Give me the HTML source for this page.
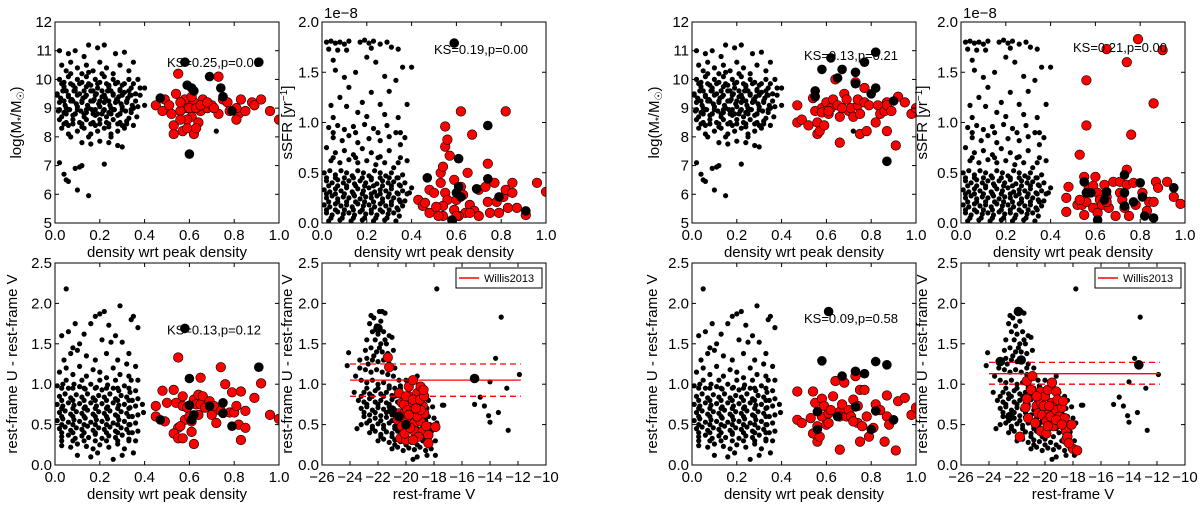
<!DOCTYPE html>
<html><head><meta charset="utf-8"><style>
body{margin:0;background:#fff;width:1200px;height:502px;overflow:hidden}
svg{font-family:"Liberation Sans","DejaVu Sans",sans-serif}
</style></head><body>
<svg id="fig" width="1200" height="502" viewBox="0 0 1200 502" xmlns="http://www.w3.org/2000/svg"></svg>
<script>
// ---------- field (black dot) samples, shared between the two groups ----------
const massFieldX=[.02,.06,.09,.13,.15,.19,.22,.27,.31,.35,.03,.05,.07,.1,.12,.14,.17,.2,.23,.26,.29,.33,.37,.02,.04,.06,.08,.1,.12,.14,.16,.18,.2,.22,.24,.26,.28,.3,.34,.38,.4,.01,.035,.06,.085,.11,.135,.16,.185,.21,.235,.26,.285,.31,.335,.36,.02,.045,.07,.095,.12,.145,.17,.195,.22,.245,.27,.295,.32,.345,.37,.4,.015,.04,.065,.09,.115,.14,.165,.19,.215,.24,.265,.29,.315,.34,.365,.02,.05,.08,.11,.14,.17,.2,.23,.26,.29,.32,.35,.03,.06,.1,.13,.16,.19,.22,.25,.28,.31,.12,.16,.2,.24,.28,.3,.025,.075,.125,.175,.225,.275,.325,.05,.1,.15,.2,.25,.3,.35,.03,.08,.13,.18,.23,.28,.33,.04,.09,.14,.19,.24,.29,.06,.12,.18,.24,.3,.07,.15,.21,.33,.02,.04,.05,.06,.09,.1,.11,.12,.15,.22,.72,
.03,.07,.11,.15,.19,.23,.27,.31,.35,.05,.09,.13,.17,.21,.25,.29,.33,.01,.06,.1,.14,.18,.22,.26,.3,.34,.38,.04,.08,.12,.16,.2,.24,.28,.32,.36,.02,.06,.1,.14,.18,.22,.26,.3,.34,.05,.09,.13,.17,.21,.25,.29,.04,.08,.12,.16,.2,.24,.28,.32,.07,.15,.25];
const massFieldY=[11.0,10.9,11.0,10.8,11.2,11.1,11.2,10.9,10.95,10.6,10.5,10.3,10.6,10.4,10.2,10.5,10.3,10.6,10.4,10.2,10.5,10.3,10.0,10.0,9.9,10.1,9.8,10.0,9.9,10.1,9.8,10.0,9.9,10.1,9.8,10.0,9.9,9.8,9.7,9.7,9.7,9.5,9.6,9.4,9.6,9.5,9.4,9.6,9.5,9.4,9.6,9.5,9.4,9.55,9.45,9.5,9.2,9.1,9.25,9.15,9.2,9.1,9.25,9.15,9.2,9.1,9.2,9.15,9.2,9.1,9.05,9.1,8.9,8.85,8.95,8.8,8.9,8.85,8.95,8.8,8.9,8.85,8.95,8.8,8.9,8.85,8.7,8.6,8.5,8.6,8.5,8.6,8.5,8.6,8.5,8.6,8.5,8.55,8.4,8.3,8.1,8.2,8.3,8.1,8.2,8.3,8.1,8.2,8.3,7.8,7.75,7.85,7.8,7.7,7.65,9.35,9.3,9.35,9.3,9.35,9.3,9.35,9.0,9.05,9.0,9.05,9.0,9.05,9.0,8.7,8.75,8.7,8.75,8.7,8.75,8.65,9.75,9.7,9.75,9.7,9.75,9.65,8.4,8.35,8.4,8.35,8.4,10.2,10.25,10.2,10.0,7.1,6.7,6.5,6.45,6.9,6.15,6.95,7.0,5.95,7.05,8.2,
9.85,9.85,9.85,9.85,9.85,9.85,9.85,9.85,9.85,9.6,9.6,9.6,9.6,9.6,9.6,9.6,9.6,9.45,9.45,9.45,9.45,9.45,9.45,9.45,9.45,9.45,9.45,9.25,9.25,9.25,9.25,9.25,9.25,9.25,9.25,9.25,8.95,8.95,8.95,8.95,8.95,8.95,8.95,8.95,8.95,8.8,8.8,8.8,8.8,8.8,8.8,8.8,8.45,8.45,8.45,8.45,8.45,8.45,8.45,8.45,8.0,8.0,8.0];
const ssfrFieldX=[.02,.04,.06,.08,.1,.12,.17,.19,.21,.23,.26,.29,.03,.07,.11,.22,.31,.34,.05,.2,.24,.36,.4,.06,.1,.15,.28,.33,.12,.22,.3,.08,.18,.04,.11,.26,.38,.16,.2,.28,.34,.05,.03,.07,.1,.14,.19,.23,.29,.33,.37,.05,.09,.12,.16,.21,.26,.3,.35,.02,.06,.1,.14,.18,.22,.26,.3,.34,.38,.04,.08,.12,.16,.2,.24,.28,.32,.01,.035,.06,.085,.11,.135,.16,.185,.21,.235,.26,.285,.31,.335,.36,.02,.045,.07,.095,.12,.145,.17,.195,.22,.245,.27,.295,.32,.345,.37,.4,.01,.035,.06,.085,.11,.135,.16,.185,.21,.235,.26,.285,.31,.335,.36,.39,.02,.045,.07,.095,.12,.145,.17,.195,.22,.245,.27,.295,.32,.345,.37,.01,.035,.06,.085,.11,.135,.16,.185,.21,.235,.26,.285,.31,.335,.36,.02,.045,.07,.095,.12,.145,.17,.195,.22,.245,.27,.295,.32,.345,.03,.08,.13,.18,.23,.28,.33,
.02,.06,.1,.14,.18,.22,.26,.3,.34,.03,.07,.11,.15,.19,.23,.27,.31,.35,.02,.06,.1,.14,.18,.22,.26,.3,.34,.38,.03,.07,.11,.15,.19,.23,.27,.31,.35,.02,.06,.1,.14,.18,.22,.26,.3,.34,.04,.09,.14,.19,.24,.29,.05,.15,.25,.35,.05,.15,.25,.35];
const ssfrFieldY=[1.8,1.81,1.79,1.8,1.78,1.81,1.8,1.82,1.79,1.81,1.78,1.8,1.73,1.72,1.72,1.74,1.75,1.73,1.62,1.65,1.6,1.55,1.55,1.52,1.45,1.5,1.46,1.42,1.35,1.3,1.31,1.25,1.2,1.17,1.16,1.18,1.18,1.1,1.06,1.08,1.05,1.05,.95,.97,.93,.96,.98,.94,.97,.9,.85,.85,.82,.87,.8,.84,.82,.86,.78,.75,.7,.72,.68,.74,.7,.66,.72,.6,.62,.62,.6,.63,.6,.62,.58,.6,.55,.5,.52,.48,.52,.5,.47,.52,.5,.47,.52,.5,.47,.5,.45,.48,.42,.4,.43,.4,.42,.39,.42,.4,.43,.39,.42,.4,.41,.38,.4,.35,.33,.31,.34,.32,.35,.31,.34,.32,.35,.31,.33,.32,.34,.3,.32,.3,.25,.27,.24,.26,.25,.27,.24,.26,.25,.27,.24,.26,.25,.23,.22,.18,.16,.19,.17,.18,.16,.19,.17,.18,.16,.19,.17,.18,.15,.17,.1,.08,.11,.09,.1,.08,.11,.09,.1,.08,.11,.09,.1,.07,.02,.03,.02,.03,.02,.03,.02,
.45,.45,.45,.45,.45,.45,.45,.45,.45,.37,.37,.37,.37,.37,.37,.37,.37,.37,.29,.29,.29,.29,.29,.29,.29,.29,.29,.29,.21,.21,.21,.21,.21,.21,.21,.21,.21,.13,.13,.13,.13,.13,.13,.13,.13,.13,.05,.05,.05,.05,.05,.05,.9,.9,.9,.9,.65,.65,.65,.65];
const uvFieldX=[.05,.2,.22,.29,.35,.34,.18,.09,.16,.24,.37,.03,.06,.13,.27,.3,.25,.21,.08,.11,.33,.36,.04,.07,.1,.14,.18,.23,.28,.32,.02,.05,.08,.11,.14,.17,.2,.23,.26,.29,.33,.37,.01,.035,.06,.085,.11,.135,.16,.185,.21,.235,.26,.285,.31,.335,.36,.02,.045,.07,.095,.12,.145,.17,.195,.22,.245,.27,.295,.32,.345,.37,.39,.01,.035,.06,.085,.11,.135,.16,.185,.21,.235,.26,.285,.31,.335,.36,.02,.045,.07,.095,.12,.145,.17,.195,.22,.245,.27,.295,.32,.345,.37,.395,.01,.035,.06,.085,.11,.135,.16,.185,.21,.235,.26,.285,.31,.335,.36,.02,.045,.07,.095,.12,.145,.17,.195,.22,.245,.27,.295,.32,.345,.37,.03,.06,.09,.12,.15,.18,.21,.24,.27,.3,.33,.36,.03,.07,.1,.14,.17,.2,.24,.28,.31,.35,.1,.16,.19,.26,.3,
.03,.08,.13,.18,.23,.28,.33,.03,.08,.13,.18,.23,.28,.33,.03,.08,.13,.18,.23,.28,.33,.03,.08,.13,.18,.23,.28,.33,.03,.08,.13,.18,.23,.28,.33,.03,.08,.13,.18,.23,.28,.33,.03,.08,.13,.18,.23,.28,.33,.05,.12,.2,.27,.34];
const uvFieldY=[2.18,1.87,1.9,1.97,1.84,1.8,1.84,1.75,1.75,1.73,1.7,1.6,1.65,1.62,1.6,1.52,1.52,1.55,1.45,1.5,1.38,1.22,1.3,1.38,1.42,1.35,1.3,1.38,1.3,1.25,1.15,1.2,1.12,1.22,1.1,1.18,1.15,1.08,1.2,1.12,1.1,1.05,.98,1.0,.95,1.0,.97,.94,1.0,.96,.93,.99,.95,.92,.98,.9,.92,.85,.88,.83,.87,.84,.88,.83,.86,.84,.88,.82,.86,.84,.8,.82,.75,.75,.73,.77,.74,.76,.72,.77,.73,.76,.72,.77,.74,.75,.71,.73,.65,.67,.63,.66,.64,.68,.63,.66,.64,.67,.62,.66,.64,.6,.62,.65,.55,.57,.53,.56,.54,.58,.53,.56,.54,.57,.52,.56,.54,.5,.52,.45,.47,.43,.46,.44,.48,.43,.46,.44,.47,.42,.46,.44,.4,.42,.35,.37,.33,.36,.34,.38,.33,.36,.34,.37,.32,.3,.24,.22,.26,.23,.2,.25,.22,.26,.2,.15,.12,.1,.15,.07,.12,
.95,.95,.95,.95,.95,.95,.95,.8,.8,.8,.8,.8,.8,.8,.7,.7,.7,.7,.7,.7,.7,.6,.6,.6,.6,.6,.6,.6,.5,.5,.5,.5,.5,.5,.5,.4,.4,.4,.4,.4,.4,.4,.3,.3,.3,.3,.3,.3,.3,1.05,1.05,1.05,1.05,1.05];
const cmdFieldX=[-22.5,-22.3,-21.9,-21.7,-21.5,-22.6,-22.1,-21.8,-22.4,-22.0,-21.6,-21.2,-22.8,-22.2,-21.8,-21.4,-21.0,-22.9,-22.5,-22.1,-21.7,-21.3,-20.9,-23.3,-22.8,-22.4,-22.0,-21.6,-21.2,-20.8,-24.1,-24.2,-23.3,-22.9,-22.5,-22.1,-21.7,-21.3,-20.9,-20.5,-23.7,-23.6,-23.2,-22.8,-22.4,-22.0,-21.6,-21.2,-20.8,-20.4,-20.0,-19.2,-23.0,-22.6,-22.2,-21.8,-21.4,-21.0,-20.6,-20.2,-19.0,-18.6,-23.4,-23.0,-22.6,-22.2,-21.8,-21.4,-21.0,-20.6,-20.2,-18.8,-18.4,-23.2,-22.8,-22.4,-22.0,-21.6,-21.2,-20.8,-18.5,-18.1,-17.3,-23.0,-22.6,-22.2,-21.8,-21.4,-21.0,-20.6,-18.4,-18.0,-23.2,-22.8,-22.4,-22.0,-21.6,-21.2,-20.8,-20.4,-18.3,-17.8,-23.5,-22.6,-22.2,-21.8,-21.4,-21.0,-20.6,-20.2,-19.0,-18.2,-22.0,-21.6,-21.2,-20.8,-20.4,-20.0,-19.6,-18.8,-18.4,-17.9,-21.0,-20.6,-20.2,-19.8,-19.4,-19.0,-18.6,-18.2,-17.9,-18.5,-19.2,-19.5,-17.8,-13.2,-13.6,-11.9,-12.8,-14.0,-14.7,-14.4,-14.1,-14.0,-13.4,-12.7,-15.1,-17.4,
-22.8,-22.0,-21.2,-20.4,-23.2,-22.4,-21.6,-20.8,-20.0,-22.8,-22.0,-21.2,-20.4,-19.6,-23.0,-22.2,-21.4,-20.6,-19.8,-18.8,-22.6,-21.8,-21.0,-20.2,-19.4,-18.6,-22.4,-21.6,-20.8,-20.0,-19.2,-18.4,-21.8,-21.0,-20.2,-19.4,-18.6,-20.8,-20.0,-19.2,-18.4,-22.3,-21.9,-21.5,-22.7,-21.3];
const cmdFieldY=[1.85,1.82,1.9,1.9,1.88,1.75,1.72,1.78,1.65,1.62,1.65,1.6,1.55,1.55,1.5,1.5,1.58,1.42,1.45,1.4,1.4,1.38,1.42,1.3,1.32,1.3,1.28,1.3,1.25,1.2,1.39,1.23,1.2,1.18,1.15,1.18,1.15,1.12,1.1,1.05,.9,1.1,1.05,1.02,1.05,1.0,1.02,.98,.95,.98,1.05,1.1,.9,.88,.92,.88,.9,.86,.9,.85,.9,.85,.8,.78,.82,.78,.8,.77,.81,.78,.8,.78,.8,.7,.72,.68,.71,.69,.72,.68,.7,.72,.74,.6,.62,.58,.61,.59,.62,.58,.6,.58,.5,.52,.48,.51,.49,.52,.48,.51,.5,.52,.45,.4,.42,.38,.41,.39,.42,.38,.4,.41,.3,.32,.28,.31,.29,.32,.28,.3,.28,.3,.2,.22,.18,.21,.19,.22,.18,.2,.12,.12,.1,.07,2.18,1.83,1.32,1.12,.95,1.03,.84,.73,.61,.53,.65,.43,.75,.74,
.95,.95,.95,.95,.85,.85,.85,.85,.85,.75,.75,.75,.75,.75,.65,.65,.65,.65,.65,.65,.55,.55,.55,.55,.55,.55,.45,.45,.45,.45,.45,.45,.35,.35,.35,.35,.35,.25,.25,.25,.25,1.35,1.45,1.55,1.25,1.2];

// ---------- cluster members: left group ----------
const p1RedX=[.45,.49,.48,.55,.54,.53,.53,.57,.58,.59,.61,.62,.62,.64,.65,.66,.68,.70,.73,.73,.75,.77,.78,.82,.83,.81,.85,.88,.89,.92,.96,1.0,.51,.56,.59,.60,.63,.65,.56,.52,.68,.71,.81,.59,.63,.56,.61];
const p1RedY=[9.1,9.3,8.9,10.2,9.5,8.4,8.1,8.2,9.3,9.0,8.7,9.2,8.1,8.5,8.9,9.3,9.0,9.1,10.1,8.8,9.3,9.2,8.9,8.8,9.3,8.6,8.9,9.2,9.1,9.3,8.9,8.6,9.1,8.9,8.6,9.0,9.0,9.1,8.6,8.8,9.2,9.0,9.0,8.3,8.3,9.2,9.4];
const p1BlkX=[.47,.58,.91,.69,.59,.61,.62,.74,.75,.79,.60];
const p1BlkY=[9.35,10.6,10.6,10.1,9.8,9.7,9.6,9.7,9.4,8.9,7.4];
const p2RedX=[.43,.45,.48,.48,.50,.53,.53,.54,.55,.55,.56,.57,.55,.56,.54,.59,.59,.60,.62,.62,.64,.65,.66,.67,.68,.70,.73,.74,.74,.75,.77,.78,.79,.81,.82,.82,.83,.85,.85,.87,.91,.96,1.0,.61,.66,.70,.52,.60,.54,.46,.51,.63];
const p2RedY=[.23,.17,.33,.1,.3,.4,.5,.56,.96,.76,.83,.67,.3,.23,.07,.13,.43,.23,1.11,.36,.1,.5,.18,.88,.12,.33,.36,.21,.59,.1,.4,.21,.1,.26,.33,1.11,.15,.4,.3,.15,.08,.4,.31,.07,.1,.07,.07,.07,.17,.2,.16,.28];
const p2BlkX=[.59,.47,.61,.61,.60,.62,.69,.74,.74,.79,.91,.58];
const p2BlkY=[1.79,.45,.64,.36,.3,.26,.34,.97,.44,.26,.12,.03];
const p5RedX=[.45,.45,.48,.49,.50,.53,.54,.55,.53,.55,.55,.57,.57,.57,.58,.59,.60,.61,.62,.62,.63,.64,.65,.64,.65,.66,.67,.69,.70,.71,.72,.74,.74,.76,.78,.79,.80,.81,.82,.83,.83,.85,.85,.89,.92,.96,1.0,.56,.61];
const p5RedY=[.73,.6,.92,.54,.77,.93,.77,.46,.39,.33,1.33,.85,.73,.33,.56,.71,.6,.41,.26,.81,.75,.87,1.08,.62,.75,.85,.71,.79,.62,.73,.52,1.21,.67,1.0,.65,.9,.65,.73,.5,.31,.91,.46,.67,.83,1.01,.62,.57,.48,.54];
const p5BlkX=[.58,.60,.60,.61,.62,.69,.75,.75,.79,.91,.47];
const p5BlkY=[1.69,1.07,.74,.56,.62,.73,.77,.64,.48,1.21,.56];
const p6RedX=[-21.3,-21.2,-20.5,-20.3,-20.5,-20.6,-20.4,-20.1,-20.0,-20.0,-19.8,-19.8,-19.7,-19.5,-19.6,-19.4,-19.4,-19.2,-19.2,-19.1,-18.96,-18.96,-18.8,-18.8,-18.7,-18.55,-18.4,-18.4,-17.9,-20.15,-20.0,-19.9,-19.5,-19.2,-19.0,-18.7,-18.75,-20.3,-20.1,-19.7,-19.1,-19.5,-18.96,-19.3,-19.8];
const p6RedY=[1.33,1.21,.89,.77,.64,.56,.33,.64,.54,.31,.97,.85,.73,1.05,.64,.52,.42,.77,.89,.64,.54,.97,.42,.73,.64,.48,.37,.27,.47,.75,.85,.68,.81,.6,.81,.85,.93,.48,.39,.46,.35,.31,.68,.7,.62];
const p6BlkX=[-22.0,-15.1,-20.0,-21.0,-20.5];
const p6BlkY=[1.69,1.07,.5,.68,.6];
const p6Fit=[1.05,1.25,0.85]; // solid, upper dashed, lower dashed
// ---------- cluster members: right group ----------
const p3RedX=[.47,.47,.49,.52,.54,.55,.56,.56,.57,.58,.58,.59,.60,.61,.62,.63,.64,.65,.66,.66,.68,.69,.70,.71,.72,.73,.74,.74,.75,.75,.77,.77,.78,.79,.82,.83,.84,.86,.87,.87,.87,.89,.91,.92,.95,.98,1.0,.67,.61];
const p3RedY=[9.1,8.5,8.6,8.4,9.35,8.9,8.5,8.1,8.2,9.0,8.85,8.4,9.2,8.8,9.0,9.3,10.0,9.1,8.7,7.8,9.5,9.3,8.9,9.0,8.7,9.9,9.1,9.3,8.8,8.1,9.7,9.2,8.2,9.1,8.5,9.1,8.8,8.9,9.2,8.2,9.1,8.9,7.7,9.4,9.2,8.8,9.0,9.0,8.9];
const p3BlkX=[.55,.55,.58,.62,.65,.67,.73,.73,.77,.82,.82,.80,.90,.87];
const p3BlkY=[9.6,9.4,10.35,10.75,10.05,10.35,10.25,9.85,10.6,10.95,9.7,9.5,9.25,7.15];
const p4RedX=[.47,.47,.48,.52,.53,.54,.55,.55,.56,.56,.56,.57,.59,.59,.60,.61,.62,.63,.64,.65,.65,.66,.68,.69,.71,.71,.72,.73,.74,.74,.74,.75,.76,.77,.78,.79,.81,.83,.84,.86,.86,.87,.88,.90,.92,.95,.98,.65,.61,.53];
const p4RedY=[.11,.25,.36,.18,.68,.18,.46,.08,.97,1.42,.21,.35,.15,.37,.46,.3,.23,.18,.38,.26,1.73,.15,.41,.07,.3,.41,.23,.15,1.6,.38,.53,.07,.88,.4,.18,1.83,.3,.12,.21,1.19,.21,.41,.35,1.72,.41,.26,.19,.21,.1,.23];
const p4BlkX=[.55,.56,.58,.61,.64,.65,.73,.73,.73,.77,.80,.81,.82,.86,.95];
const p4BlkY=[.41,.3,.3,.03,.23,.31,.48,.3,.17,.21,.40,.26,.07,.05,.35];
const p7RedX=[.47,.47,.49,.53,.54,.54,.55,.56,.56,.57,.58,.58,.59,.60,.61,.61,.62,.63,.64,.66,.66,.66,.67,.68,.69,.70,.71,.72,.73,.74,.74,.75,.75,.76,.77,.78,.79,.81,.82,.84,.86,.87,.87,.88,.91,.92,.95,.98,1.0,.72];
const p7RedY=[.91,.56,.52,.58,.91,.39,.77,.48,.29,.35,.82,.6,.73,.5,.64,.52,.68,.85,1.04,.19,.66,.6,.75,1.02,.6,.68,.6,.81,1.1,.73,.52,.29,.93,.48,.93,.6,.35,.46,.75,.68,.29,.86,.6,.5,.18,.79,.83,.62,.71,.54];
const p7BlkX=[.61,.58,.67,.73,.77,.82,.87,.82,.80,.90,.56,.56,.65,.73];
const p7BlkY=[1.9,1.29,1.1,1.16,1.13,1.28,1.24,.67,.44,.56,.66,.44,.6,.72];
const p8RedX=[-21.8,-21.4,-21.3,-21.3,-21.2,-21.0,-20.9,-20.7,-20.6,-20.5,-20.3,-20.3,-20.3,-20.2,-20.0,-19.9,-19.9,-19.8,-19.7,-19.6,-19.5,-19.5,-19.4,-19.2,-19.2,-19.1,-18.96,-18.96,-18.8,-18.7,-18.6,-18.5,-18.5,-18.4,-18.1,-18.0,-17.7,-18.3,-20.6,-20.1,-19.7,-19.2,-18.8,-19.8];
const p8RedY=[.35,.71,.82,1.04,.58,.93,1.1,.52,.73,.64,.91,.42,.77,.62,.85,.54,.39,.93,.68,.6,1.02,.77,.48,.91,.68,.81,.6,.54,.71,.79,.58,.42,.31,.35,.5,.2,.18,.27,.85,.73,.73,.56,.5,.48];
const p8BlkX=[-21.9,-23.2,-21.7,-22.5,-13.3];
const p8BlkY=[1.9,1.28,1.3,.6,1.24];
const p8Fit=[1.13,1.27,1.0];

const densTicks=["0.0","0.2","0.4","0.6","0.8","1.0"];
const massTicks=["5","6","7","8","9","10","11","12"];
const ssfrTicks=["0.0","0.5","1.0","1.5","2.0"];
const uvTicks=["0.0","0.5","1.0","1.5","2.0","2.5"];
const magTicks=["−26","−24","−22","−20","−18","−16","−14","−12","−10"];

const NS="http://www.w3.org/2000/svg";
const svg=document.getElementById('fig');
function mk(tag,attrs,parent){const e=document.createElementNS(NS,tag);for(const k in attrs)e.setAttribute(k,attrs[k]);(parent||svg).appendChild(e);return e;}
function txt(s,attrs,parent){const e=mk('text',attrs,parent);e.textContent=s;return e;}
let clipN=0;
function panel(o){
  const g=mk('g',{});
  
  
  const sx=v=>o.L+(v-o.x0)/(o.x1-o.x0)*(o.R-o.L);
  const sy=v=>o.B-(v-o.y0)/(o.y1-o.y0)*(o.B-o.T);
  const cid='c'+(clipN++);
  const cp=mk('clipPath',{id:cid},g);mk('rect',{x:o.L,y:o.T,width:o.R-o.L,height:o.B-o.T},cp);
  const pg=mk('g',{'clip-path':'url(#'+cid+')'},g);
  const fg=mk('g',{},pg);
  
  
  for(let i=0;i<o.fx.length;i++){mk('circle',{cx:sx(o.fx[i]).toFixed(1),cy:sy(o.fy[i]).toFixed(1),r:2.6,fill:'#000'},fg);}
  if(o.fit){
    const lg=mk('g',{},pg);
    
    
    o.fit.forEach((v,i)=>{mk('line',{x1:sx(-24),x2:sx(-11.8),y1:sy(v),y2:sy(v),stroke:'#f00','stroke-width':1.3,'stroke-dasharray':i?'6,4':'none'},lg);});
  }
  const rg=mk('g',{},pg);
  
  
  for(let i=0;i<o.rx.length;i++){mk('circle',{cx:sx(o.rx[i]).toFixed(1),cy:sy(o.ry[i]).toFixed(1),r:4.8,fill:'#f00',stroke:'#000','stroke-width':0.6},rg);}
  const bg=mk('g',{},pg);
  
  
  for(let i=0;i<o.bx.length;i++){mk('circle',{cx:sx(o.bx[i]).toFixed(1),cy:sy(o.by[i]).toFixed(1),r:4.8,fill:'#000'},bg);}
  mk('rect',{x:o.L,y:o.T,width:o.R-o.L,height:o.B-o.T,fill:'none',stroke:'#000','stroke-width':1},g);
  const n=o.xt.length;
  o.xt.forEach((t,i)=>{const v=o.x0+(o.x1-o.x0)*i/(n-1);const X=sx(v);
    mk('line',{x1:X,x2:X,y1:o.B,y2:o.B-4,stroke:'#000'},g);mk('line',{x1:X,x2:X,y1:o.T,y2:o.T+4,stroke:'#000'},g);
    const e=txt(t,{x:X,y:o.B+17,'font-size':15,'text-anchor':'middle'},g);
    
    });
  const m=o.yt.length;
  o.yt.forEach((t,i)=>{const v=o.y0+(o.y1-o.y0)*i/(m-1);const Y=sy(v);
    mk('line',{x1:o.L,x2:o.L+4,y1:Y,y2:Y,stroke:'#000'},g);mk('line',{x1:o.R,x2:o.R-4,y1:Y,y2:Y,stroke:'#000'},g);
    const e=txt(t,{x:o.L-3,y:Y+5,'font-size':15,'text-anchor':'end'},g);
    
    });
  const xl=txt(o.xlab,{x:(o.L+o.R)/2,y:o.B+34,'font-size':15,'text-anchor':'middle'},g);
  
  
  const yl=mk('text',{x:0,y:0,'font-size':15,'text-anchor':'middle',transform:`translate(${o.ylx},${(o.T+o.B)/2}) rotate(-90)`},g);
  yl.innerHTML=o.ylab;
  
  
  if(o.off){const e=txt('1e−8',{x:o.L+2,y:o.T-4,'font-size':15},g);
    
    }
  if(o.ks){const e=txt(o.ks,{x:sx(0.5),y:sy(o.ksy)+5,'font-size':13},g);
    
    }
  if(o.fit){const lg=mk('g',{},g);
    
    
    const lx=o.R-90,ly=o.T+5;
    mk('rect',{x:lx,y:ly,width:86,height:20,fill:'#fff',stroke:'#000','stroke-width':1},lg);
    mk('line',{x1:lx+3,x2:lx+23,y1:ly+10,y2:ly+10,stroke:'#f00','stroke-width':1.5},lg);
    const e=txt('Willis2013',{x:lx+28,y:ly+14,'font-size':11},lg);
    
    }
}
const DL='density wrt peak density';
const MASSL='log(M<tspan font-size="10" dy="3">*</tspan><tspan dy="-3">/M</tspan><tspan font-size="10" dy="3">☉</tspan><tspan dy="-3">)</tspan>';
const SSFRL='sSFR [yr<tspan font-size="10" dy="-5">−1</tspan><tspan dy="5">]</tspan>';
const UVL='rest-frame U - rest-frame V';
const top1=22,bot1=223,top2=263,bot2=465;
const cols=[[55,279],[322,546],[692,916],[961,1185]];
const ylx=[21,292,659,927];
// left group
panel({name:'panel-mass-left',L:cols[0][0],R:cols[0][1],T:top1,B:bot1,x0:0,x1:1,y0:5,y1:12,xt:densTicks,yt:massTicks,xlab:DL,ylab:MASSL,ylx:ylx[0],fx:massFieldX,fy:massFieldY,rx:p1RedX,ry:p1RedY,bx:p1BlkX,by:p1BlkY,ks:'KS=0.25,p=0.00',ksy:10.6});
panel({name:'panel-ssfr-left',L:cols[1][0],R:cols[1][1],T:top1,B:bot1,x0:0,x1:1,y0:0,y1:2,xt:densTicks,yt:ssfrTicks,xlab:DL,ylab:SSFRL,ylx:ylx[1],fx:ssfrFieldX,fy:ssfrFieldY,rx:p2RedX,ry:p2RedY,bx:p2BlkX,by:p2BlkY,ks:'KS=0.19,p=0.00',ksy:1.73,off:true});
panel({name:'panel-color-density-left',L:cols[0][0],R:cols[0][1],T:top2,B:bot2,x0:0,x1:1,y0:0,y1:2.5,xt:densTicks,yt:uvTicks,xlab:DL,ylab:UVL,ylx:ylx[0]-4,fx:uvFieldX,fy:uvFieldY,rx:p5RedX,ry:p5RedY,bx:p5BlkX,by:p5BlkY,ks:'KS=0.13,p=0.12',ksy:1.68});
panel({name:'panel-cmd-left',L:cols[1][0],R:cols[1][1],T:top2,B:bot2,x0:-26,x1:-10,y0:0,y1:2.5,xt:magTicks,yt:uvTicks,xlab:'rest-frame V',ylab:UVL,ylx:ylx[1],fx:cmdFieldX,fy:cmdFieldY,rx:p6RedX,ry:p6RedY,bx:p6BlkX,by:p6BlkY,fit:p6Fit});
// right group
panel({name:'panel-mass-right',L:cols[2][0],R:cols[2][1],T:top1,B:bot1,x0:0,x1:1,y0:5,y1:12,xt:densTicks,yt:massTicks,xlab:DL,ylab:MASSL,ylx:ylx[2],fx:massFieldX,fy:massFieldY,rx:p3RedX,ry:p3RedY,bx:p3BlkX,by:p3BlkY,ks:'KS=0.13,p=0.21',ksy:10.85});
panel({name:'panel-ssfr-right',L:cols[3][0],R:cols[3][1],T:top1,B:bot1,x0:0,x1:1,y0:0,y1:2,xt:densTicks,yt:ssfrTicks,xlab:DL,ylab:SSFRL,ylx:ylx[3],fx:ssfrFieldX,fy:ssfrFieldY,rx:p4RedX,ry:p4RedY,bx:p4BlkX,by:p4BlkY,ks:'KS=0.21,p=0.00',ksy:1.75,off:true});
panel({name:'panel-color-density-right',L:cols[2][0],R:cols[2][1],T:top2,B:bot2,x0:0,x1:1,y0:0,y1:2.5,xt:densTicks,yt:uvTicks,xlab:DL,ylab:UVL,ylx:ylx[2]-2,fx:uvFieldX,fy:uvFieldY,rx:p7RedX,ry:p7RedY,bx:p7BlkX,by:p7BlkY,ks:'KS=0.09,p=0.58',ksy:1.82});
panel({name:'panel-cmd-right',L:cols[3][0],R:cols[3][1],T:top2,B:bot2,x0:-26,x1:-10,y0:0,y1:2.5,xt:magTicks,yt:uvTicks,xlab:'rest-frame V',ylab:UVL,ylx:ylx[3],fx:cmdFieldX,fy:cmdFieldY,rx:p8RedX,ry:p8RedY,bx:p8BlkX,by:p8BlkY,fit:p8Fit});
</script>
</body></html>
